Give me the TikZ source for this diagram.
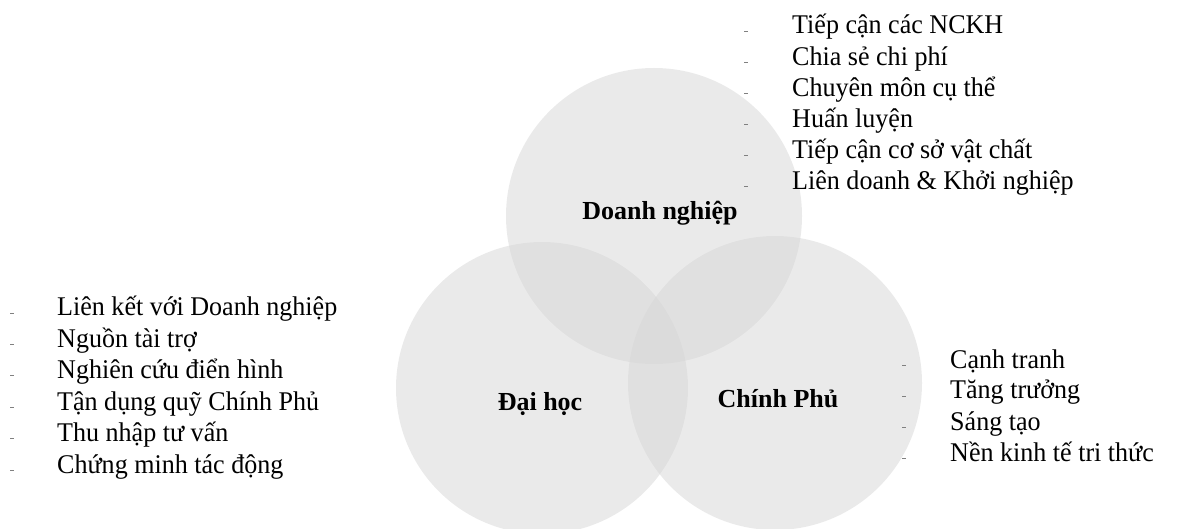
\documentclass[tikz,border=0pt]{standalone}
\usepackage{fontspec}
\setmainfont{Liberation Serif}
\newfontfamily\itemfont{Liberation Serif}[FakeStretch=0.965]
\definecolor{vgray}{HTML}{D6D6D6}
\definecolor{dashgray}{HTML}{808080}
\tikzset{
  circ/.style={circle, fill=vgray, fill opacity=0.5, draw=none, inner sep=0pt},
  lbl/.style={font=\bfseries\fontsize{26}{30}\selectfont, inner sep=0pt, anchor=base},
  item/.style={font=\itemfont\fontsize{27}{31}\selectfont, inner sep=0pt, anchor=base west},
  dashmark/.style={draw=dashgray, line width=0.9pt}
}
\begin{document}
\begin{tikzpicture}[x=1pt,y=-1pt]
\useasboundingbox (0,0) rectangle (1181,529);
\clip (0,0) rectangle (1181,529);
% circles
\node[circ, minimum size=296pt] (cdn) at (654,216) {};
\node[circ, minimum size=292pt] (cdh) at (542,388) {};
\node[circ, minimum size=294pt] (ccp) at (775,383) {};
% labels
\node[lbl] (ldn) at (660,220) {Doanh nghiệp};
\node[lbl] (ldh) at (540,410) {Đại học};
\node[lbl] (lcp) at (778,407) {Chính Phủ};
% top list
\foreach \t [count=\i from 0] in {Tiếp cận các NCKH, Chia sẻ chi phí, Chuyên môn cụ thể, Huấn luyện, Tiếp cận cơ sở vật chất, Liên doanh \& Khởi nghiệp}{
  \node[item] (top\i) at (792,34+31.1*\i) {\t};
  \coordinate (tdA\i) at (744,31+31.1*\i);
  \coordinate (tdB\i) at (748,31+31.1*\i);
  \draw[dashmark] (tdA\i) -- (tdB\i);
}
% left list
\foreach \t [count=\i from 0] in {Liên kết với Doanh nghiệp, Nguồn tài trợ, Nghiên cứu điển hình, Tận dụng quỹ Chính Phủ, Thu nhập tư vấn, Chứng minh tác động}{
  \node[item] (left\i) at (57,316+31.4*\i) {\t};
  \coordinate (ldA\i) at (10,313+31.4*\i);
  \coordinate (ldB\i) at (14,313+31.4*\i);
  \draw[dashmark] (ldA\i) -- (ldB\i);
}
% right list
\foreach \t [count=\i from 0] in {Cạnh tranh, Tăng trưởng, Sáng tạo, Nền kinh tế tri thức}{
  \node[item] (right\i) at (950,368+31*\i) {\t};
  \coordinate (rdA\i) at (902,365+31*\i);
  \coordinate (rdB\i) at (906,365+31*\i);
  \draw[dashmark] (rdA\i) -- (rdB\i);
}
\end{tikzpicture}
\end{document}
